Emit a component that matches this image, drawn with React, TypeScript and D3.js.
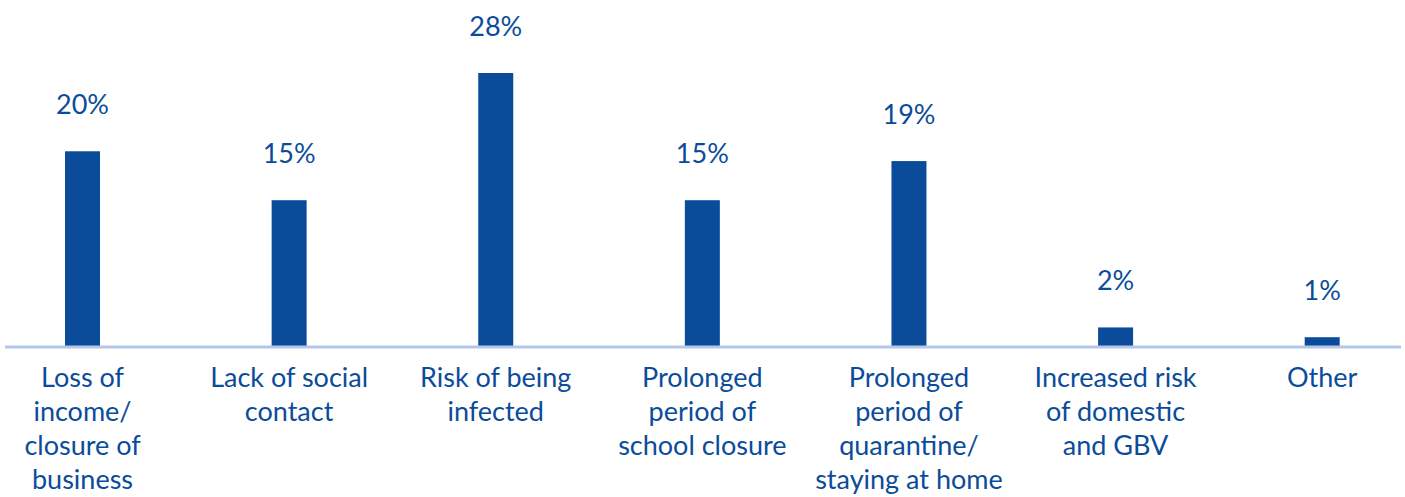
import React from "react";
import * as d3 from "d3";

const categories: string[][] = [
  ["Loss of", "income/", "closure of", "business"],
  ["Lack of social", "contact"],
  ["Risk of being", "infected"],
  ["Prolonged", "period of", "school closure"],
  ["Prolonged", "period of", "quarantine/", "staying at home"],
  ["Increased risk", "of domestic", "and GBV"],
  ["Other"],
];
const values: number[] = [20, 15, 28, 15, 19, 2, 1];
const valueLabels: string[] = ["20%", "15%", "28%", "15%", "19%", "2%", "1%"];

const W = 1405;
const H = 497;
const BLUE = "#0B4C9A";
const AXIS = "#B4C7E7";
const FONT = "Lato, 'Open Sans', sans-serif";

export default function App() {
  const baseline = 347;
  const x = d3
    .scaleBand<number>()
    .domain(d3.range(categories.length))
    .range([-20.8, 1425.5])
    .paddingInner(0)
    .paddingOuter(0);
  const y = d3.scaleLinear().domain([0, 28]).range([baseline, 73]);
  const barW = 35;

  return (
    <svg
      width={W}
      height={H}
      style={{ position: "absolute", left: 0, top: 0, background: "#fff" }}
    >
      {values.map((v, i) => {
        const cx = (x(i) as number) + x.bandwidth() / 2;
        return (
          <g key={i}>
            <rect
              x={cx - barW / 2}
              y={y(v)}
              width={barW}
              height={baseline - y(v)}
              fill={BLUE}
            />
            <text
              x={cx}
              y={y(v) - 37}
              textAnchor="middle"
              fill={BLUE}
              fontFamily={FONT}
              fontSize={27}
            >
              {valueLabels[i]}
            </text>
          </g>
        );
      })}
      <line x1={5} x2={1401} y1={baseline} y2={baseline} stroke={AXIS} strokeWidth={3} />
      {categories.map((lines, i) => {
        const cx = (x(i) as number) + x.bandwidth() / 2;
        return (
          <text
            key={i}
            textAnchor="middle"
            fill={BLUE}
            fontFamily={FONT}
            fontSize={27}
          >
            {lines.map((l, j) => (
              <tspan key={j} x={cx} y={387 + j * 34}>
                {l}
              </tspan>
            ))}
          </text>
        );
      })}
    </svg>
  );
}
